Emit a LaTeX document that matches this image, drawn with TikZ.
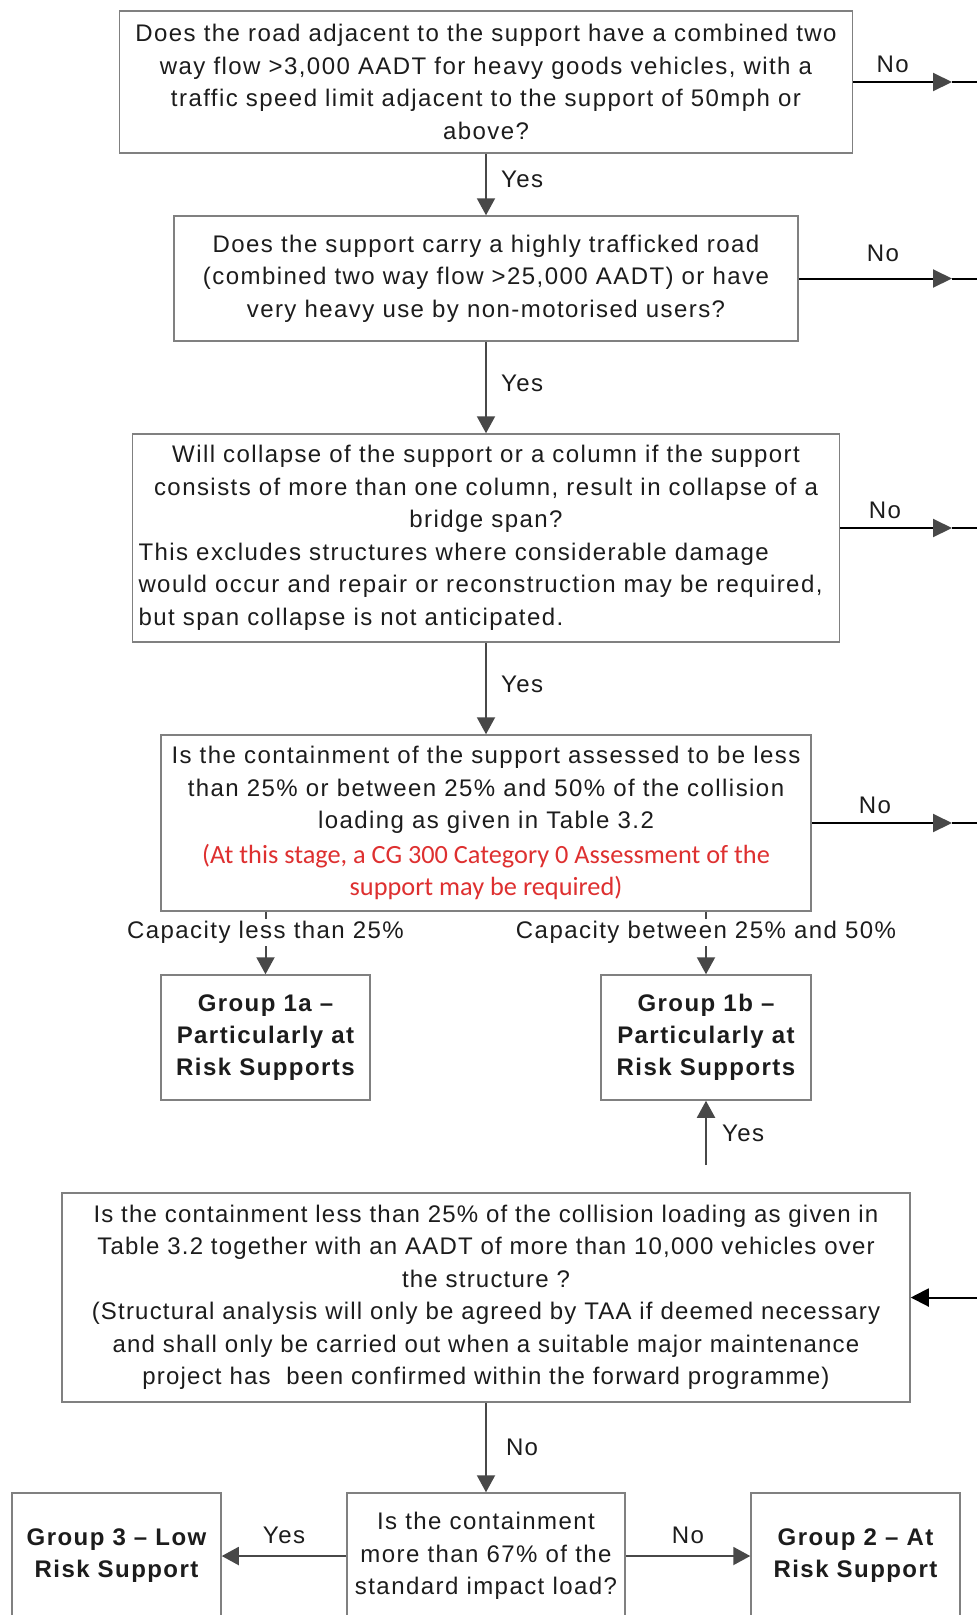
\documentclass[tikz,border=0pt]{standalone}
\usepackage{fontspec}
\setmainfont{Liberation Sans}[LetterSpace=6]
\newfontfamily\calibri{Carlito}
\usetikzlibrary{arrows.meta, positioning}

\definecolor{boxgray}{RGB}{128,128,128}
\definecolor{arrowgray}{RGB}{72,72,72}
\definecolor{notered}{RGB}{222,48,48}
\definecolor{inkblack}{RGB}{28,28,28}

\newcommand{\rednote}[1]{{\calibri\fontsize{26.3}{31}\selectfont\color{notered}#1}}

\begin{document}
\begin{tikzpicture}[x=1pt, y=-1pt,
    box/.style={draw=boxgray, line width=1.5pt, inner sep=6pt, align=center,
        font=\fontsize{24}{32.5}\selectfont, text=inkblack},
    groupbox/.style={box, font=\bfseries\fontsize{24}{32}\selectfont},
    flow/.style={draw=arrowgray, line width=2pt, -{Triangle[width=18pt,length=17pt]}},
    noline/.style={draw=black, line width=2pt},
    notip/.style={-{Triangle[width=18pt,length=19pt,color=arrowgray]}},
    lbl/.style={font=\fontsize{24}{28}\selectfont, text=inkblack, inner sep=2pt}]

    % Frame
    \useasboundingbox (0,0) rectangle (977,1615);
    \clip (0,0) rectangle (977,1615);
    \fill[white] (0,0) rectangle (977,1615);

    % Questions
    \node[box, minimum width=733, minimum height=142] (road) at (486,82)
        {Does the road adjacent to the support have a combined two\\
         way flow >3,000 AADT for heavy goods vehicles, with a\\
         traffic speed limit adjacent to the support of 50mph or\\
         above?};
    \node[box, minimum width=624, minimum height=125] (traffic) at (486,278.5)
        {Does the support carry a highly trafficked road\\
         (combined two way flow >25,000 AADT) or have\\
         very heavy use by non-motorised users?};
    \node[box, minimum width=707, minimum height=208] (collapse) at (486,538)
        {Will collapse of the support or a column if the support\\
         consists of more than one column, result in collapse of a\\
         bridge span?\\
         \makebox[695pt][l]{This excludes structures where considerable damage}\\
         \makebox[695pt][l]{would occur and repair or reconstruction may be required,}\\
         \makebox[695pt][l]{but span collapse is not anticipated.}};
    \node[box, minimum width=650, minimum height=176] (contain) at (486,823)
        {Is the containment of the support assessed to be less\\
         than 25\% or between 25\% and 50\% of the collision\\
         loading as given in Table 3.2\\[2pt]
         \rednote{(At this stage, a CG 300 Category 0 Assessment of the}\\
         \rednote{support may be required)}};
    \node[box, minimum width=848, minimum height=209,
        font=\addfontfeature{LetterSpace=5}\fontsize{24}{32.5}\selectfont] (aadt) at (486,1297.5)
        {Is the containment less than 25\% of the collision loading as given in\\
         Table 3.2 together with an AADT of more than 10,000 vehicles over\\
         the structure ?\\
         (Structural analysis will only be agreed by TAA if deemed necessary\\
         and shall only be carried out when a suitable major maintenance\\
         project has~ been confirmed within the forward programme)};
    \node[box, minimum width=278, minimum height=126] (impact) at (486,1556)
        {Is the containment\\ more than 67\% of the\\ standard impact load?};

    % Groups
    \node[groupbox, minimum width=209, minimum height=125] (grpOneA) at (265.5,1037.5)
        {Group 1a --\\ Particularly at\\ Risk Supports};
    \node[groupbox, minimum width=210, minimum height=125] (grpOneB) at (706,1037.5)
        {Group 1b --\\ Particularly at\\ Risk Supports};
    \node[groupbox, minimum width=209, minimum height=126] (grpThree) at (116.5,1556)
        {Group 3 -- Low\\ Risk Support};
    \node[groupbox, minimum width=209, minimum height=126] (grpTwo) at (855.5,1556)
        {Group 2 -- At\\ Risk Support};

    % Yes path
    \draw[flow] (road.south) -- (traffic.north) node[lbl, pos=0.42, right=12pt] (yesRoad) {Yes};
    \draw[flow] (traffic.south) -- (collapse.north) node[lbl, pos=0.45, right=12pt] (yesTraffic) {Yes};
    \draw[flow] (collapse.south) -- (contain.north) node[lbl, pos=0.45, right=12pt] (yesCollapse) {Yes};
    \draw[flow] (contain.south -| grpOneA) -- (grpOneA.north)
        node[lbl, pos=0.33, fill=white] (capLow) {Capacity less than 25\%};
    \draw[flow] (contain.south -| grpOneB) -- (grpOneB.north)
        node[lbl, pos=0.33, fill=white] (capMid) {Capacity between 25\% and 50\%};
    \coordinate (yesFoot) at (706,1165);
    \draw[flow] (yesFoot) -- (grpOneB.south) node[lbl, midway, right=13pt] (yesAadt) {Yes};

    % No path to the right
    \coordinate (tip) at (952,0);
    \coordinate (edge) at (990,0);
    \coordinate (collapseOut) at ([yshift=10pt]collapse.east);
    \draw[noline, notip] (road.east) -- (road.east -| tip) node[lbl, pos=0.4, above=6pt] (noRoad) {No};
    \draw[noline] (road.east -| tip) -- (road.east -| edge);
    \draw[noline, notip] (traffic.east) -- (traffic.east -| tip) node[lbl, pos=0.55, above=14pt] (noTraffic) {No};
    \draw[noline] (traffic.east -| tip) -- (traffic.east -| edge);
    \draw[noline, notip] (collapseOut) -- (collapseOut -| tip) node[lbl, pos=0.4, above=6pt] (noCollapse) {No};
    \draw[noline] (collapseOut -| tip) -- (collapseOut -| edge);
    \draw[noline, notip] (contain.east) -- (contain.east -| tip) node[lbl, pos=0.45, above=6pt] (noContain) {No};
    \draw[noline] (contain.east -| tip) -- (contain.east -| edge);
    \draw[noline, -{Triangle[width=18pt,length=18pt]}] (aadt.east -| edge) -- (aadt.east);

    % Bottom branch
    \draw[flow] (aadt.south) -- (impact.north) node[lbl, midway, right=17pt] (noAadt) {No};
    \draw[flow] (impact.west) -- (grpThree.east) node[lbl, midway, above=9pt] (yesImpact) {Yes};
    \draw[flow] (impact.east) -- (grpTwo.west) node[lbl, midway, above=9pt] (noImpact) {No};
\end{tikzpicture}
\end{document}
